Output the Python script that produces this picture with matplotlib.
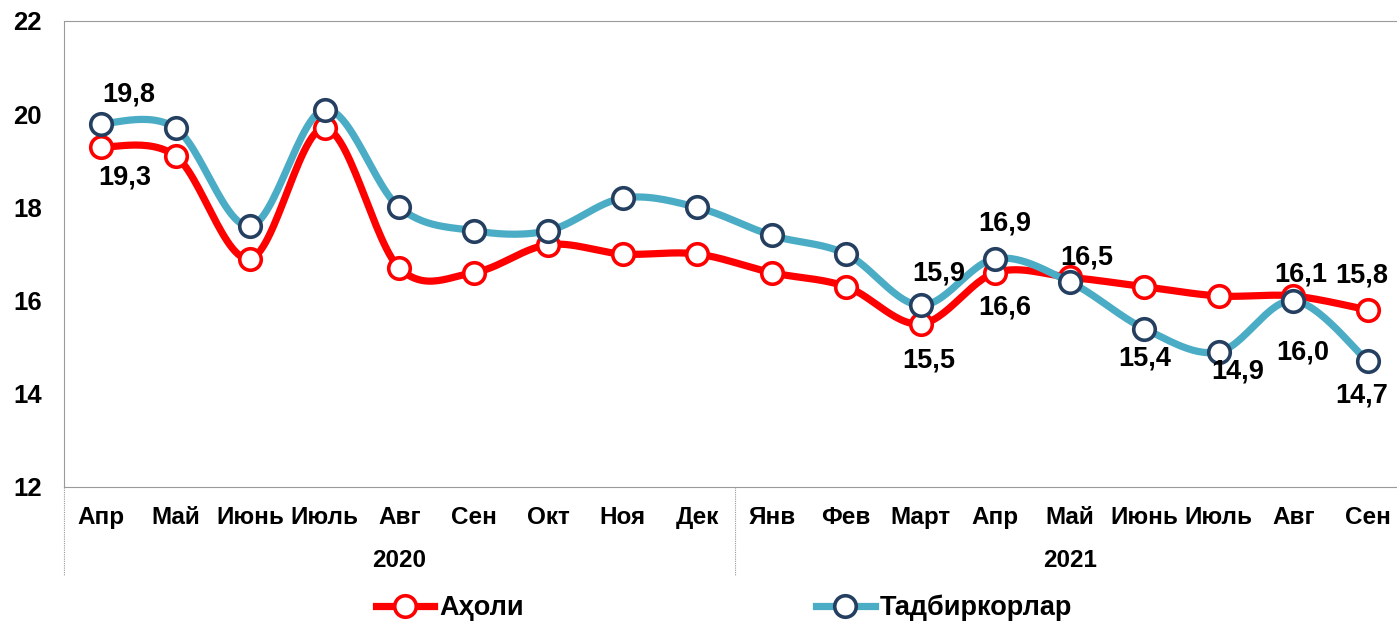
import matplotlib
matplotlib.use("Agg")
import matplotlib.pyplot as plt
import matplotlib.transforms as mtransforms
from matplotlib.lines import Line2D
import numpy as np

plt.rcParams["font.family"] = ["Liberation Sans", "DejaVu Sans"]
plt.rcParams["font.weight"] = "bold"

# --- data ---------------------------------------------------------------
months = ["Апр", "Май", "Июнь", "Июль", "Авг", "Сен", "Окт", "Ноя", "Дек",
          "Янв", "Фев", "Март", "Апр", "Май", "Июнь", "Июль", "Авг", "Сен"]
years = ["2020", "2021"]
year_centers = [4, 13]
year_breaks = [-0.5, 8.5]

aholi = [19.3, 19.1, 16.9, 19.7, 16.7, 16.6, 17.2, 17.0, 17.0,
         16.6, 16.3, 15.5, 16.6, 16.5, 16.3, 16.1, 16.1, 15.8]
tadbir = [19.8, 19.7, 17.6, 20.1, 18.0, 17.5, 17.5, 18.2, 18.0,
          17.4, 17.0, 15.9, 16.9, 16.4, 15.4, 14.9, 16.0, 14.7]

# labelled points: index -> label offset in pixels
aholi_labels = {0: (24, -31), 11: (8, -37), 12: (9, -35), 13: (17, 20),
                16: (7, 21), 17: (-6, 34)}
tadbir_labels = {0: (28, 29), 11: (18, 32), 12: (9, 35), 14: (0, -30),
                 15: (19, -20), 16: (9, -52), 17: (-6, -34)}

RED = "#FF0000"
BLUE = "#4BACC6"
NAVY = "#243F60"
GRID = "#9A9A9A"


def smooth(x, y, n=30):
    """Excel-like smoothed line (cubic Bezier through the points)."""
    pts = np.column_stack([x, y]).astype(float)
    out = [pts[0]]
    t = np.linspace(0, 1, n)[1:, None]
    for i in range(len(pts) - 1):
        p0 = pts[i - 1] if i > 0 else pts[i]
        p1, p2 = pts[i], pts[i + 1]
        p3 = pts[i + 2] if i + 2 < len(pts) else pts[i + 1]
        c1 = p1 + (p2 - p0) / 6
        c2 = p2 - (p3 - p1) / 6
        seg = ((1 - t) ** 3 * p1 + 3 * (1 - t) ** 2 * t * c1
               + 3 * (1 - t) * t ** 2 * c2 + t ** 3 * p2)
        out.extend(seg)
    return np.array(out)


fig = plt.figure(figsize=(13.97, 6.24), dpi=100)
ax = fig.add_axes([64 / 1397, 137 / 624, 1341 / 1397, 466 / 624])

x = np.arange(len(months))
px = 72 / 100  # pixels -> points

for values, line_c, edge_c, labels in [(aholi, RED, RED, aholi_labels),
                                       (tadbir, BLUE, NAVY, tadbir_labels)]:
    curve = smooth(x, values)
    ax.plot(curve[:, 0], curve[:, 1], color=line_c, lw=5.2,
            solid_capstyle="round", solid_joinstyle="round")
    ax.plot(x, values, "o", ms=15.5, mfc="white", mec=edge_c, mew=2.6)
    for i, (dx, dy) in labels.items():
        ax.annotate(f"{values[i]:.1f}".replace(".", ","), (x[i], values[i]),
                    xytext=(dx * px, dy * px), textcoords="offset points",
                    ha="center", va="center", fontsize=19.5, fontweight="bold")

ax.set_xlim(-0.5, len(months) - 0.5)
ax.set_ylim(12, 22)
ax.set_yticks(np.arange(12, 23, 2))
ax.set_xticks(x, months)
ax.tick_params(axis="x", length=0, pad=14, labelsize=17.5)
ax.tick_params(axis="y", length=0, pad=16, labelsize=18.5)
for lab in ax.get_xticklabels() + ax.get_yticklabels():
    lab.set_fontweight("bold")

for sp in ax.spines.values():
    sp.set_color(GRID)
    sp.set_linewidth(0.8)
    sp.set_linestyle((0, (1, 1)))

trans = mtransforms.blended_transform_factory(ax.transData, ax.transAxes)
for xb in year_breaks:
    ax.plot([xb, xb], [0, -0.189], transform=trans, clip_on=False,
            color=GRID, lw=0.8, ls=(0, (1, 1)))
for xc, yr in zip(year_centers, years):
    ax.text(xc, -0.157, yr, transform=trans, ha="center", va="center",
            fontsize=17.5, fontweight="bold")

handles = [Line2D([], [], color=RED, lw=5.2, marker="o", ms=15.5, mfc="white",
                  mec=RED, mew=2.6),
           Line2D([], [], color=BLUE, lw=5.2, marker="o", ms=15.5, mfc="white",
                  mec=NAVY, mew=2.6)]
fig.legend(handles, ["Аҳоли", "Тадбиркорлар"], loc="center",
           bbox_to_anchor=(724 / 1397, 1 - 608 / 624), ncol=2, frameon=False,
           prop={"size": 19.5, "weight": "bold"}, handlelength=2.15,
           handletextpad=0.2, columnspacing=10.8, borderpad=0)

fig.savefig("out.png", dpi=100)
